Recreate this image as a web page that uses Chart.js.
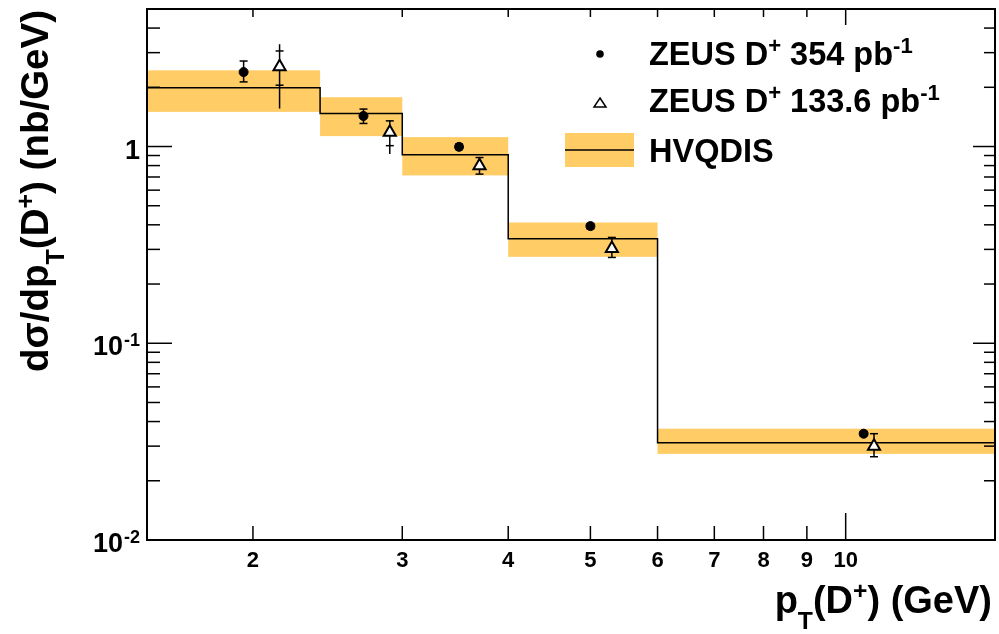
<!DOCTYPE html>
<html>
<head>
<meta charset="utf-8">
<script src="https://cdn.jsdelivr.net/npm/chart.js@4.4.1/dist/chart.umd.min.js"></script>
<style>
  body { margin: 0; background: #fff; }
  canvas { display: block; }
</style>
</head>
<body>
<canvas id="dplus" width="999" height="634"></canvas>
<script>
// pT bins (GeV) and HVQDIS prediction with its uncertainty band
const binEdges = [1.5, 2.4, 3, 4, 6, 15];
const hvqdis   = [1.99, 1.47, 0.908, 0.340, 0.0312];
const hvqdisLo = [1.50, 1.13, 0.713, 0.275, 0.0274];
const hvqdisHi = [2.44, 1.78, 1.116, 0.411, 0.0368];

// ZEUS D+ 354 pb-1 (filled circles)
const zeus354X  = [1.95, 2.70, 3.50, 5.00, 10.5];
const zeus354Y  = [2.39, 1.43, 0.996, 0.394, 0.0347];
const zeus354Lo = [2.13, 1.31, 0.965, 0.382, 0.0338];
const zeus354Hi = [2.72, 1.55, 1.03, 0.406, 0.0356];

// ZEUS D+ 133.6 pb-1 (open triangles), stat and total errors
const zeus133X      = [2.15, 2.90, 3.70, 5.30, 10.8];
const zeus133Y      = [2.54, 1.18, 0.798, 0.303, 0.0300];
const zeus133StatLo = [2.05, 1.01, 0.724, 0.273, 0.0265];
const zeus133StatHi = [3.06, 1.35, 0.879, 0.345, 0.0347];
const zeus133TotLo  = [1.56, 0.915, 0.724, 0.273, 0.0265];
const zeus133TotHi  = [3.31, 1.36, 0.879, 0.345, 0.0347];

// axis ticks
const xTickValues = [2, 3, 4, 5, 6, 7, 8, 9, 10];
const xMajorTicks = [10];
const yMajorTicks = [0.01, 0.1, 1];
const yTickLabels = [['10', '-2'], ['10', '-1'], ['1', '']];

const ORANGE = '#ffcc66';
const FONT = '"Liberation Sans", Arial, Helvetica, sans-serif';

// draw a run of text pieces: n = normal, sup = superscript, sub = subscript
function richWidth(ctx, parts, size, small) {
  let w = 0;
  parts.forEach(p => {
    const s = p.k === 'n' ? size : size * small;
    ctx.font = `bold ${s}px ${FONT}`;
    w += ctx.measureText(p.t).width;
  });
  return w;
}
function drawRich(ctx, parts, x, y, size, small) {
  ctx.textAlign = 'left';
  ctx.textBaseline = 'alphabetic';
  parts.forEach(p => {
    let s = size, dy = 0;
    if (p.k === 'sup') { s = size * small; dy = -size * 0.36; }
    if (p.k === 'sub') { s = size * small; dy = size * 0.42; }
    ctx.font = `bold ${s}px ${FONT}`;
    ctx.fillText(p.t, x, y + dy);
    x += ctx.measureText(p.t).width;
  });
}

function seg(ctx, x1, y1, x2, y2) {
  ctx.beginPath();
  ctx.moveTo(x1, y1);
  ctx.lineTo(x2, y2);
  ctx.stroke();
}

function errorBar(ctx, x, y, px, lo, hi, sLo, sHi) {
  const cx = x.getPixelForValue(px);
  seg(ctx, cx, y.getPixelForValue(lo), cx, y.getPixelForValue(hi));
  [sLo, sHi].forEach(v => {
    const py = y.getPixelForValue(v);
    seg(ctx, cx - 4, py, cx + 4, py);
  });
}

const rootStyle = {
  id: 'rootStyle',
  beforeDatasetsDraw(chart) {
    const { ctx, chartArea: a, scales: { x, y } } = chart;
    ctx.save();
    // HVQDIS uncertainty band
    ctx.fillStyle = ORANGE;
    hvqdis.forEach((v, i) => {
      const x0 = x.getPixelForValue(binEdges[i]);
      const x1 = Math.min(x.getPixelForValue(binEdges[i + 1]), a.right);
      const y0 = y.getPixelForValue(hvqdisHi[i]);
      const y1 = y.getPixelForValue(hvqdisLo[i]);
      ctx.fillRect(x0, y0, x1 - x0, y1 - y0);
    });
    // error bars under the markers
    ctx.strokeStyle = '#000';
    ctx.lineWidth = 1.5;
    zeus354X.forEach((px, i) => errorBar(ctx, x, y, px, zeus354Lo[i], zeus354Hi[i], zeus354Lo[i], zeus354Hi[i]));
    zeus133X.forEach((px, i) => errorBar(ctx, x, y, px, zeus133TotLo[i], zeus133TotHi[i], zeus133StatLo[i], zeus133StatHi[i]));
    ctx.restore();
  },
  afterDraw(chart) {
    const { ctx, chartArea: a, scales: { x, y } } = chart;
    ctx.save();
    ctx.strokeStyle = '#000';
    ctx.fillStyle = '#000';

    // frame
    ctx.lineWidth = 2;
    ctx.strokeRect(a.left, a.top, a.right - a.left, a.bottom - a.top);

    // x ticks (inside, bottom and top) and labels
    ctx.lineWidth = 1.5;
    ctx.font = `bold 22px ${FONT}`;
    ctx.textAlign = 'center';
    ctx.textBaseline = 'alphabetic';
    xTickValues.forEach(v => {
      const px = x.getPixelForValue(v);
      const major = xMajorTicks.includes(v);
      seg(ctx, px, a.bottom, px, a.bottom - (major ? 27 : 14));
      seg(ctx, px, a.top, px, a.top + (major ? 16 : 8));
      ctx.fillText(String(v), px, 567);
    });

    // y ticks: decades and 2..9 in between
    yMajorTicks.forEach(dec => {
      for (let m = 1; m <= 9; m++) {
        const v = dec * m;
        if (v > y.max) break;
        const py = y.getPixelForValue(v);
        const major = m === 1;
        seg(ctx, a.left, py, a.left + (major ? 25 : 13), py);
        seg(ctx, a.right, py, a.right - (major ? 22 : 11), py);
      }
    });

    // y labels with exponents
    yMajorTicks.forEach((v, i) => {
      const py = y.getPixelForValue(v);
      const [base, exp] = yTickLabels[i];
      ctx.textAlign = 'right';
      ctx.font = `bold 18px ${FONT}`;
      const ew = exp ? ctx.measureText(exp).width + 1 : 0;
      if (exp) ctx.fillText(exp, 140, py + 3);
      ctx.font = `bold 27px ${FONT}`;
      ctx.fillText(base, 140 - ew, py + 12);
    });

    // x title
    const xTitle = [{ t: 'p', k: 'n' }, { t: 'T', k: 'sub' }, { t: '(D', k: 'n' }, { t: '+', k: 'sup' }, { t: ') (GeV)', k: 'n' }];
    const xs = 38;
    drawRich(ctx, xTitle, 992 - richWidth(ctx, xTitle, xs, 0.65), 613, xs, 0.65);

    // y title, rotated
    const yTitle = [{ t: 'd\u03c3/dp', k: 'n' }, { t: 'T', k: 'sub' }, { t: '(D', k: 'n' }, { t: '+', k: 'sup' }, { t: ') (nb/GeV)', k: 'n' }];
    const ys = 38.5;
    ctx.save();
    ctx.translate(48, 372);
    ctx.rotate(-Math.PI / 2);
    drawRich(ctx, yTitle, 0, 0, ys, 0.65);
    ctx.restore();

    // legend
    const ls = 32.5;
    ctx.fillStyle = '#000';
    ctx.beginPath();
    ctx.arc(600, 54, 3.8, 0, Math.PI * 2);
    ctx.fill();
    ctx.lineWidth = 1.5;
    ctx.beginPath();
    ctx.moveTo(600, 98);
    ctx.lineTo(606, 107);
    ctx.lineTo(594, 107);
    ctx.closePath();
    ctx.stroke();
    ctx.fillStyle = ORANGE;
    ctx.fillRect(565, 133, 69, 34);
    ctx.fillStyle = '#000';
    seg(ctx, 565, 150, 634, 150);
    drawRich(ctx, [{ t: 'ZEUS D', k: 'n' }, { t: '+', k: 'sup' }, { t: ' 354 pb', k: 'n' }, { t: '-1', k: 'sup' }], 649, 65, ls, 0.68);
    drawRich(ctx, [{ t: 'ZEUS D', k: 'n' }, { t: '+', k: 'sup' }, { t: ' 133.6 pb', k: 'n' }, { t: '-1', k: 'sup' }], 649, 112, ls, 0.68);
    drawRich(ctx, [{ t: 'HVQDIS', k: 'n' }], 649, 162, ls, 0.68);
    ctx.restore();
  }
};

// step line through bin edges, last level repeated to close the final bin
const stepPoints = binEdges.map((e, i) => ({ x: e, y: hvqdis[Math.min(i, hvqdis.length - 1)] }));

new Chart(document.getElementById('dplus'), {
  data: {
    datasets: [
      {
        type: 'scatter',
        label: 'ZEUS D+ 354 pb-1',
        data: zeus354X.map((v, i) => ({ x: v, y: zeus354Y[i] })),
        pointStyle: 'circle',
        pointRadius: 4.5,
        pointHoverRadius: 4.5,
        backgroundColor: '#000',
        borderColor: '#000',
        order: 1
      },
      {
        type: 'scatter',
        label: 'ZEUS D+ 133.6 pb-1',
        data: zeus133X.map((v, i) => ({ x: v, y: zeus133Y[i] })),
        pointStyle: 'triangle',
        pointRadius: 7,
        pointHoverRadius: 7,
        backgroundColor: '#fff',
        borderColor: '#000',
        borderWidth: 2,
        order: 2
      },
      {
        type: 'line',
        label: 'HVQDIS',
        data: stepPoints,
        stepped: true,
        borderColor: '#000',
        borderWidth: 1.5,
        pointRadius: 0,
        fill: false,
        order: 3
      }
    ]
  },
  options: {
    responsive: false,
    animation: false,
    layout: { autoPadding: false, padding: { left: 147, right: 4, top: 9, bottom: 94 } },
    scales: {
      x: { type: 'logarithmic', min: 1.5, max: 15, display: false },
      y: { type: 'logarithmic', min: 0.01, max: 5, display: false }
    },
    plugins: { legend: { display: false }, tooltip: { enabled: false } },
    events: []
  },
  plugins: [rootStyle]
});
</script>
</body>
</html>
